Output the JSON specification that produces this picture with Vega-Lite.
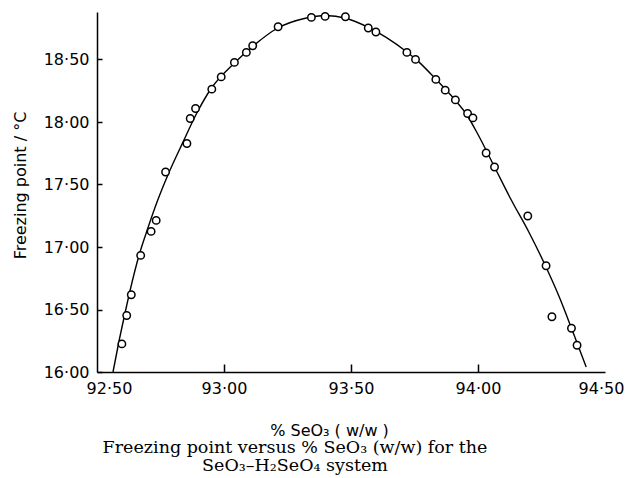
{
  "$schema": "https://vega.github.io/schema/vega-lite/v6.json",
  "width": 508,
  "height": 360,
  "autosize": {"type": "none"},
  "padding": {"left": 97, "top": 12, "right": 25, "bottom": 106},
  "background": "white",
  "config": {"view": {"stroke": null}, "font": "DejaVu Sans"},
  "title": {
    "text": ["Freezing point versus % SeO₃ (w/w) for the", "SeO₃–H₂SeO₄ system"],
    "orient": "bottom",
    "anchor": "middle",
    "frame": "group",
    "font": "DejaVu Serif",
    "fontSize": 17.5,
    "fontWeight": "normal",
    "color": "black",
    "lineHeight": 18,
    "offset": 1,
    "dx": -56
  },
  "datasets": {
    "curve": [
      {"pct": 92.563, "fp": 16.00},
      {"pct": 92.585, "fp": 16.23},
      {"pct": 92.607, "fp": 16.44},
      {"pct": 92.630, "fp": 16.65},
      {"pct": 92.665, "fp": 16.93},
      {"pct": 92.700, "fp": 17.15},
      {"pct": 92.740, "fp": 17.38},
      {"pct": 92.780, "fp": 17.58},
      {"pct": 92.840, "fp": 17.845},
      {"pct": 92.890, "fp": 18.06},
      {"pct": 92.950, "fp": 18.27},
      {"pct": 93.040, "fp": 18.47},
      {"pct": 93.110, "fp": 18.60},
      {"pct": 93.210, "fp": 18.75},
      {"pct": 93.320, "fp": 18.83},
      {"pct": 93.400, "fp": 18.852},
      {"pct": 93.480, "fp": 18.83},
      {"pct": 93.570, "fp": 18.755},
      {"pct": 93.640, "fp": 18.675},
      {"pct": 93.720, "fp": 18.56},
      {"pct": 93.770, "fp": 18.475},
      {"pct": 93.835, "fp": 18.34},
      {"pct": 93.910, "fp": 18.175},
      {"pct": 93.955, "fp": 18.06},
      {"pct": 94.000, "fp": 17.90},
      {"pct": 94.065, "fp": 17.64},
      {"pct": 94.130, "fp": 17.38},
      {"pct": 94.200, "fp": 17.12},
      {"pct": 94.270, "fp": 16.83},
      {"pct": 94.320, "fp": 16.60},
      {"pct": 94.370, "fp": 16.34},
      {"pct": 94.426, "fp": 16.04}
    ],
    "obs": [
      {"pct": 92.598, "fp": 16.225},
      {"pct": 92.617, "fp": 16.452},
      {"pct": 92.635, "fp": 16.618},
      {"pct": 92.672, "fp": 16.933},
      {"pct": 92.713, "fp": 17.125},
      {"pct": 92.733, "fp": 17.213},
      {"pct": 92.770, "fp": 17.600},
      {"pct": 92.854, "fp": 17.828},
      {"pct": 92.867, "fp": 18.028},
      {"pct": 92.888, "fp": 18.108},
      {"pct": 92.952, "fp": 18.263},
      {"pct": 92.989, "fp": 18.361},
      {"pct": 93.041, "fp": 18.477},
      {"pct": 93.088, "fp": 18.557},
      {"pct": 93.113, "fp": 18.610},
      {"pct": 93.213, "fp": 18.762},
      {"pct": 93.344, "fp": 18.837},
      {"pct": 93.398, "fp": 18.845},
      {"pct": 93.478, "fp": 18.842},
      {"pct": 93.568, "fp": 18.752},
      {"pct": 93.598, "fp": 18.720},
      {"pct": 93.720, "fp": 18.557},
      {"pct": 93.754, "fp": 18.501},
      {"pct": 93.834, "fp": 18.341},
      {"pct": 93.871, "fp": 18.255},
      {"pct": 93.911, "fp": 18.177},
      {"pct": 93.959, "fp": 18.068},
      {"pct": 93.980, "fp": 18.033},
      {"pct": 94.032, "fp": 17.752},
      {"pct": 94.065, "fp": 17.640},
      {"pct": 94.196, "fp": 17.248},
      {"pct": 94.268, "fp": 16.850},
      {"pct": 94.291, "fp": 16.442},
      {"pct": 94.368, "fp": 16.350},
      {"pct": 94.390, "fp": 16.214}
    ]
  },
  "layer": [
    {
      "data": {"name": "curve"},
      "mark": {"type": "line", "interpolate": "monotone", "color": "black", "strokeWidth": 1.4, "clip": false},
      "encoding": {
        "x": {
          "field": "pct",
          "type": "quantitative",
          "scale": {"domain": [92.5, 94.5], "nice": false, "zero": false},
          "axis": {
            "title": "%  SeO₃ ( w/w )",
            "values": [92.5, 93, 93.5, 94, 94.5],
            "labelExpr": "replace(format(datum.value, '.2f'), '.', '·')",
            "grid": false,
            "domainColor": "black",
            "domainWidth": 1.5,
            "tickColor": "black",
            "tickWidth": 1.5,
            "tickSize": -8,
            "tickOpacity": {"condition": {"test": "datum.value == 94.5 || datum.value == 92.5", "value": 0}, "value": 1},
            "labelFont": "DejaVu Sans",
            "labelFontSize": 16,
            "labelColor": "black",
            "labelPadding": 16,
            "labelFlush": false,
            "labelOverlap": false,
            "labelBound": false,
            "labelOffset": {"condition": [{"test": "datum.value == 92.5", "value": 12}, {"test": "datum.value == 94.5", "value": -4}], "value": 0},
            "titleFont": "DejaVu Sans",
            "titleFontSize": 16,
            "titleFontWeight": "normal",
            "titleColor": "black",
            "titleX": 232,
            "titleY": 63,
            "titleAlign": "center",
            "titleBaseline": "alphabetic"
          }
        },
        "y": {
          "field": "fp",
          "type": "quantitative",
          "scale": {"domain": [16, 18.88], "nice": false, "zero": false},
          "axis": {
            "title": "Freezing point / °C",
            "values": [16, 16.5, 17, 17.5, 18, 18.5],
            "labelExpr": "replace(format(datum.value, '.2f'), '.', '·')",
            "grid": false,
            "domainColor": "black",
            "domainWidth": 1.5,
            "tickColor": "black",
            "tickWidth": 1.5,
            "tickSize": -5,
            "labelFont": "DejaVu Sans",
            "labelFontSize": 16,
            "labelColor": "black",
            "labelPadding": 13,
            "labelFlush": false,
            "labelOverlap": false,
            "labelBound": false,
            "titleFont": "DejaVu Sans",
            "titleFontSize": 16,
            "titleFontWeight": "normal",
            "titleColor": "black",
            "titleAngle": -90,
            "titleX": -72,
            "titleY": 173,
            "titleAlign": "center",
            "titleBaseline": "alphabetic"
          }
        }
      }
    },
    {
      "data": {"name": "obs"},
      "mark": {"type": "point", "shape": "circle", "filled": true, "fill": "white", "stroke": "black", "strokeWidth": 1.5, "size": 55, "opacity": 1, "clip": false},
      "encoding": {
        "x": {"field": "pct", "type": "quantitative"},
        "y": {"field": "fp", "type": "quantitative"}
      }
    }
  ]
}
